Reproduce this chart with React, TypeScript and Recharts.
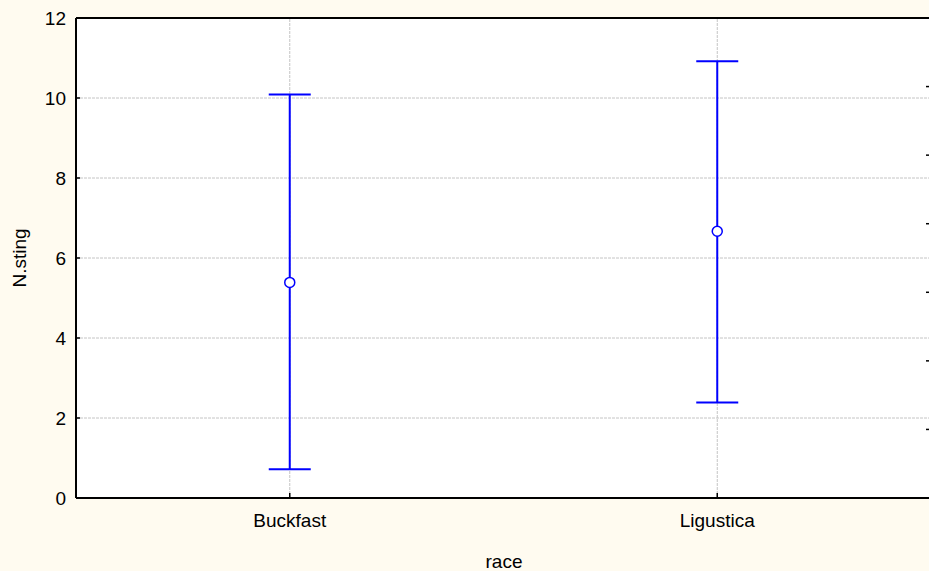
import React from "react";
import {
  ComposedChart,
  Line,
  XAxis,
  YAxis,
  CartesianGrid,
  ErrorBar,
  ReferenceLine,
} from "recharts";

const categories = ["Buckfast", "Ligustica"];
const means = [5.39, 6.67];
const lows = [0.72, 2.39];
const highs = [10.09, 10.92];
const yTicks = [0, 2, 4, 6, 8, 10, 12];
const rightTicks = [1, 2, 3, 4, 5, 6];

const data = categories.map((c, i) => ({
  race: c,
  mean: means[i],
  err: [means[i] - lows[i], highs[i] - means[i]],
}));

const FONT = "'Liberation Sans', Arial, sans-serif";
const FS = 19;

const LeftTick = (props: any) => {
  const { x, y, payload } = props;
  return (
    <g>
      <line x1={x} y1={y} x2={x + 4} y2={y} stroke="#000" strokeWidth={1.5} />
      <text x={x - 10} y={y + 7} textAnchor="end" fontSize={FS} fontFamily={FONT} fill="#000">
        {payload.value}
      </text>
    </g>
  );
};

const BottomTick = (props: any) => {
  const { x, y, payload } = props;
  return (
    <g>
      <line x1={x} y1={y} x2={x} y2={y - 5} stroke="#000" strokeWidth={1.5} />
      <text x={x} y={y + 29} textAnchor="middle" fontSize={FS} fontFamily={FONT} fill="#000">
        {payload.value}
      </text>
    </g>
  );
};

const RightTick = (props: any) => {
  const { x, y } = props;
  return <line x1={x} y1={y} x2={x - 5} y2={y} stroke="#000" strokeWidth={1.5} />;
};

export default function App() {
  return (
    <div
      style={{
        position: "absolute",
        left: 0,
        top: 0,
        width: 929,
        height: 571,
        overflow: "hidden",
        background: "#FFFBF0",
      }}
    >
      <ComposedChart
        width={936}
        height={571}
        data={data}
        margin={{ top: 18, right: 0, bottom: 0, left: 0 }}
      >
        <CartesianGrid
          vertical={false}
          fill="#ffffff"
          stroke="#c4c4c4"
          strokeDasharray="3 1"
        />
        <ReferenceLine x="Buckfast" stroke="#c4c4c4" strokeDasharray="3 1" />
        <ReferenceLine x="Ligustica" stroke="#c4c4c4" strokeDasharray="3 1" />
        <ReferenceLine y={12} stroke="#000" strokeWidth={2} />
        <XAxis
          dataKey="race"
          type="category"
          scale="band"
          height={73}
          tickSize={0}
          tickMargin={0}
          axisLine={{ stroke: "#000", strokeWidth: 2 }}
          tickLine={false}
          tick={<BottomTick />}
          interval={0}
          label={{
            content: () => (
              <text x={504} y={568} textAnchor="middle" fontSize={FS} fontFamily={FONT} fill="#000">
                race
              </text>
            ),
          }}
        />
        <YAxis
          domain={[0, 12]}
          ticks={yTicks}
          width={76}
          tickSize={0}
          tickMargin={0}
          axisLine={{ stroke: "#000", strokeWidth: 2 }}
          tickLine={false}
          tick={<LeftTick />}
          interval={0}
          label={{
            content: () => (
              <text
                x={19}
                y={258}
                transform="rotate(-90 19 258)"
                textAnchor="middle"
                dominantBaseline="central"
                fontSize={FS}
                fontFamily={FONT}
                fill="#000"
              >
                N.sting
              </text>
            ),
          }}
        />
        <YAxis
          yAxisId="r"
          orientation="right"
          domain={[0, 7]}
          ticks={rightTicks}
          allowDataOverflow
          width={5}
          tickSize={0}
          tickMargin={0}
          axisLine={{ stroke: "#000", strokeWidth: 2 }}
          tickLine={false}
          tick={<RightTick />}
          interval={0}
        />
        <Line
          yAxisId="r"
          dataKey="mean"
          stroke="none"
          dot={false}
          activeDot={false}
          legendType="none"
          isAnimationActive={false}
        />
        <Line
          dataKey="mean"
          stroke="none"
          isAnimationActive={false}
          dot={{ r: 5, fill: "#ffffff", stroke: "#0000ff", strokeWidth: 1.5 }}
          activeDot={false}
        >
          <ErrorBar
            dataKey="err"
            width={21}
            stroke="#0000ff"
            strokeWidth={2}
            direction="y"
            isAnimationActive={false}
          />
        </Line>
      </ComposedChart>
    </div>
  );
}
